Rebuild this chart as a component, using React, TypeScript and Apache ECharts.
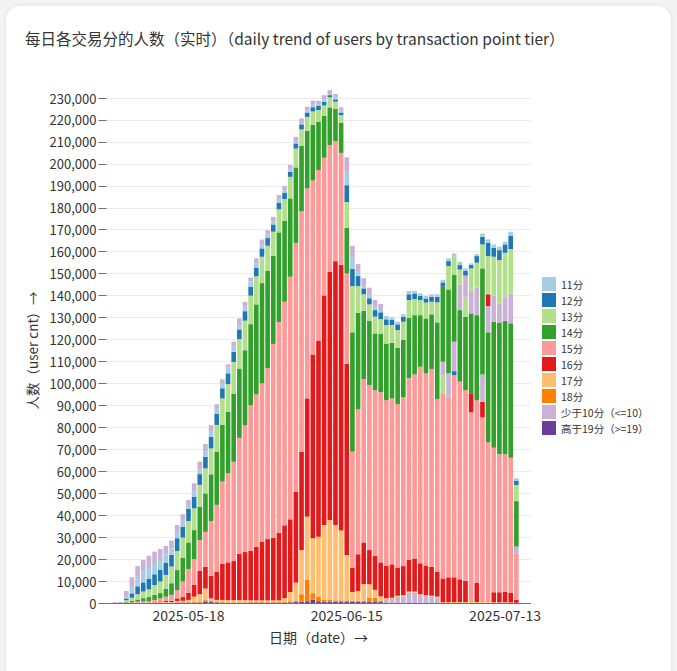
import React, { useEffect, useRef } from 'react';
import * as echarts from 'echarts';

// ---- categories ----
const START_DATE = '2025-05-04';
const DAY_COUNT = 75;
function buildDates(): string[] {
  const out: string[] = [];
  const t0 = Date.parse(START_DATE + 'T00:00:00Z');
  for (let i = 0; i < DAY_COUNT; i++) {
    out.push(new Date(t0 + i * 86400000).toISOString().slice(0, 10));
  }
  return out;
}
const dates = buildDates();

// ---- tiers (legend order) ----
const tierNames = ['11分', '12分', '13分', '14分', '15分', '16分', '17分', '18分', '少于10分（<=10）', '高于19分（>=19）'];
const tierKeys = ['11', '12', '13', '14', '15', '16', '17', '18', 'L', 'H'];
const tierColors = ['#a6cee3', '#1f78b4', '#b2df8a', '#33a02c', '#fb9a99', '#e31a1c', '#fdbf6f', '#ff7f00', '#cab2d6', '#6a3d9a'];

// ---- daily user counts (thousands) per tier ----
const vLe10 = [0, .3, .4, 2.6, 4.7, 4.9, 5.3, 5.5, 5.6, 5.0, 3.8, 3.5, 3.3, 3.0, 2.6, 3.8, 3.3, 3.2, 2.7, 2.1, 2.1, 1.5, 2.3, 3.0, 2.3, 1.8, 2.2, 2.2, 2.0, 2.0, 2.2, 2.0, 2.0, 2.3, 2.2, 1.8, 1.9, 1.5, 1.9, 1.8, 1.5, 1.5, 6.3, 5.3, 3.2, 3.1, 3.3, 3.1, 2.7, 1.8, 2.0, 2.9, 3.0, 4.7, 4.7, 3.6, 3.2, 3.0, 2.6, 6.1, 10.6, 13.4, 11.7, 9.6, 10.3, 12.6, 12.4, 11.9, 11.9, 8.7, 10.4, 13.6, 3.1, 0, 0];
const v11 = [0, 0, 0, .9, 2.6, 4.3, 4.9, 4.9, 4.7, 4.5, 3.8, 3.0, 2.7, 2.6, 1.5, 2.3, 2.4, 2.6, 2.6, 2.3, 2.0, 2.6, 2.3, 2.0, 2.0, 2.3, 2.0, 1.8, 1.6, 1.5, 1.3, 1.2, 1.1, .7, .5, .8, 1.1, .6, 1.1, .5, .9, .8, 6.4, 5.3, 2.3, 1.5, 1.5, 1.5, 1.1, 1.5, 1.2, 1.2, 1.1, 1.5, 1.2, 1.1, 1.1, 1.1, 1.1, 1.1, 1.3, 1.5, 1.5, 1.2, .8, .9, 1.5, 1.5, 1.5, 1.6, 1.2, 1.8, 1.1, 0, 0];
const v12 = [0, 0, 0, .8, 2.0, 3.6, 4.2, 4.9, 4.9, 5.3, 5.6, 5.3, 5.8, 5.0, 5.5, 5.3, 4.9, 5.3, 5.3, 5.0, 4.6, 4.9, 4.6, 4.4, 4.3, 4.1, 4.0, 3.8, 3.5, 3.3, 3.0, 2.8, 2.3, 2.3, 2.3, 2.0, 1.9, 2.1, 1.7, 1.0, 1.1, 1.2, 7.7, 7.8, 4.6, 2.7, 2.8, 3.0, 3.1, 2.6, 2.3, 2.6, 2.3, 2.6, 2.6, 1.9, 1.9, 2.3, 2.6, 2.0, 2.2, 1.8, 2.0, 2.1, 1.5, 3.0, 3.5, 6.1, 4.1, 4.5, 3.8, 6.1, 2.0, 0, 0];
const v13 = [0, 0, 0, .6, 1.5, 2.4, 3.0, 3.5, 4.5, 5.3, 6.4, 7.6, 8.7, 9.1, 9.7, 9.9, 9.9, 11.4, 11.8, 12.1, 12.1, 12.6, 14.4, 13.4, 13.5, 13.0, 12.8, 12.0, 11.5, 11.0, 10.5, 10.0, 9.8, 8.6, 7.4, 6.3, 6.1, 5.3, 4.7, 4.6, 3.3, 3.5, 11.8, 21.0, 12.1, 7.5, 7.4, 7.6, 6.8, 8.4, 8.1, 8.0, 8.3, 8.1, 7.3, 6.9, 7.2, 5.7, 9.1, 8.3, 10.7, 8.3, 6.8, 9.1, 10.2, 11.3, 10.9, 17.4, 17.7, 19.7, 20.5, 20.2, 7.3, 0, 0];
const v14 = [0, 0, 0, .4, .6, 1.0, 1.5, 2.0, 2.3, 2.4, 3.5, 5.3, 9.1, 10.9, 12.1, 13.2, 15.2, 17.5, 21.3, 24.3, 25.8, 28.1, 31.1, 31.6, 34.2, 37.0, 41.0, 45.7, 44.2, 40.1, 40.8, 36.8, 35.7, 34.4, 29.8, 26.3, 25.4, 22.0, 19.1, 17.1, 14.6, 13.7, 20.7, 54.4, 43.9, 31.1, 29.3, 25.8, 26.5, 25.8, 25.3, 25.7, 26.1, 27.6, 27.0, 23.5, 25.0, 24.9, 34.9, 34.1, 38.2, 30.4, 32.6, 33.4, 36.4, 38.7, 48.3, 50.1, 57.4, 60.1, 60.9, 61.2, 20.7, 0, 0];
const v15 = [0, 0, 0, .2, .3, .5, .6, .6, .9, 1.4, 2.0, 2.7, 3.8, 7.1, 10.8, 11.8, 14.1, 15.9, 24.9, 30.4, 37.5, 40.5, 45.2, 52.7, 57.7, 66.2, 69.4, 72.1, 77.9, 88.3, 96.0, 101.8, 110.5, 113.3, 109.6, 95.6, 79.2, 77.9, 62.8, 57.7, 54.7, 51.1, 41.1, 52.9, 66.1, 74.4, 75.2, 75.5, 77.5, 75.4, 75.6, 74.4, 76.9, 82.7, 83.8, 89.5, 87.6, 90.1, 78.6, 84.3, 82.3, 92.1, 90.0, 86.9, 86.3, 83.1, 84.1, 72.9, 65.8, 62.8, 62.7, 61.7, 21.2, 0, 0];
const v16 = [0, 0, 0, 0, 0, .1, .1, .1, .2, .4, .5, .6, 1.2, 1.7, 3.3, 5.3, 10.6, 9.9, 10.3, 12.9, 16.4, 17.2, 17.8, 21.2, 21.9, 22.6, 24.4, 26.7, 27.9, 28.5, 30.8, 33.2, 33.1, 41.4, 44.8, 53.9, 83.7, 89.1, 104.5, 113.1, 120.2, 120.9, 87.1, 11.0, 16.7, 19.0, 15.5, 15.5, 15.5, 14.8, 15.2, 12.9, 13.3, 14.4, 15.1, 14.1, 13.4, 13.2, 11.4, 10.9, 11.3, 11.3, 10.4, 9.7, 8.7, 8.9, 7.2, 5.4, 4.6, 4.6, 4.7, 4.3, 1.3, 0, 0];
const v17 = [0, 0, 0, 0, 0, 0, 0, 0, .3, .3, .4, .4, .5, .6, 1.0, 2.3, 3.3, 5.3, 1.2, .8, 1.0, 1.0, 1.0, 1.0, 1.0, .7, .7, .7, .7, .7, .7, 1.6, 4.2, 8.3, 20.1, 28.8, 25.0, 27.2, 34.0, 36.3, 34.3, 31.8, 20.7, 4.0, 4.5, 7.6, 6.1, 3.5, 2.0, .4, .4, .4, .5, .5, .5, .4, .4, .3, .3, .3, .4, .4, .4, .4, .5, .4, .4, .3, .3, .3, .3, .2, .1, 0, 0];
const v18 = [0, 0, 0, 0, 0, 0, 0, 0, 0, 0, 0, 0, .2, .2, .2, .4, .5, .8, .5, .3, .2, .2, .2, .2, .2, .3, .3, .3, .3, .3, .3, .4, .5, .6, 3.4, 9.7, 3.0, 2.2, .9, .9, .7, .7, .7, .5, .5, .6, 2.0, 2.0, .6, 0, 0, 0, 0, 0, 0, 0, 0, 0, 0, 0, 0, 0, 0, 0, 0, 0, 0, 0, 0, 0, 0, 0, 0, 0, 0];
const vGe19 = [0, 0, 0, 0, 0, 0, 0, 0, 0, 0, 0, 0, .2, .2, .2, .2, .2, .5, .4, .3, .2, .1, .1, .1, .1, .2, .2, .2, .2, .2, .2, .2, .3, .4, .6, .8, 1.5, .8, .6, .6, .5, .5, .5, .5, .5, .4, .5, .5, .4, 0, 0, 0, 0, 0, 0, 0, 0, 0, 0, 0, 0, 0, 0, 0, 0, 0, 0, 0, 0, 0, 0, 0, 0, 0, 0];

const valuesByKey: Record<string, number[]> = {
  '11': v11, '12': v12, '13': v13, '14': v14, '15': v15, '16': v16, '17': v17, '18': v18, L: vLe10, H: vGe19,
};

// ---- stacking order of segments (bottom -> top) as seen in the picture ----
const defaultOrder = ['H', '18', '17', '16', '15', '14', '13', '12', '11', 'L'];
const lowLavOrder = ['L', 'H', '18', '17', '16', '15', '14', '13', '12', '11'];
const orderByDate: Record<string, string[]> = {
  '2025-07-02': ['H', '18', '17', '16', '15', '13', 'L', '14', '12', '11'],
  '2025-07-03': ['H', '18', '17', '16', '15', 'L', '14', '13', '12', '11'],
  '2025-07-04': ['H', '18', '17', '16', '15', '12', 'L', '14', '13', '11'],
  '2025-07-05': ['H', '18', '17', '16', '15', '14', 'L', '13', '12', '11'],
  '2025-07-06': ['H', '18', '17', '16', '15', '14', '13', 'L', '12', '11'],
  '2025-07-07': ['H', '18', '17', '15', '16', '14', 'L', '13', '12', '11'],
  '2025-07-08': ['H', '18', '17', '16', '15', '14', 'L', '13', '12', '11'],
  '2025-07-09': ['H', '18', '17', '15', '16', 'L', '14', '13', '12', '11'],
  '2025-07-10': ['H', '18', '17', '15', '14', 'L', '16', '13', '12', '11'],
  '2025-07-11': ['H', '18', '17', '16', '15', '14', 'L', '13', '12', '11'],
  '2025-07-12': ['H', '18', '17', '16', '15', '14', 'L', '13', '12', '11'],
  '2025-07-13': ['H', '18', '17', '16', '15', '14', 'L', '13', '12', '11'],
  '2025-07-14': ['H', '18', '17', '16', '15', '14', 'L', '13', '12', '11'],
  '2025-07-15': ['H', '18', '17', '16', '15', 'L', '14', '13', '12', '11'],
};
const lowLavFrom = '2025-06-22';
const lowLavTo = '2025-07-01';

function orderFor(d: string): string[] {
  if (orderByDate[d]) return orderByDate[d];
  if (d >= lowLavFrom && d <= lowLavTo) return lowLavOrder;
  return defaultOrder;
}

const FONT = "'Noto Sans CJK SC', 'Noto Sans', sans-serif";

export default function App() {
  const ref = useRef<HTMLDivElement>(null);

  useEffect(() => {
    document.body.style.margin = '0';
    document.body.style.background = '#f3f3f3';
    if (!ref.current) return;
    const chart = echarts.init(ref.current, undefined, { renderer: 'svg' });
    const colorByKey: Record<string, string> = {};
    tierKeys.forEach((k, i) => (colorByKey[k] = tierColors[i]));

    const layerSeries = defaultOrder.map((_, layer) => ({
      type: 'bar',
      stack: 'all',
      barCategoryGap: '18%',
      clip: false,
      silent: true,
      legendHoverLink: false,
      data: dates.map((d, i) => {
        const key = orderFor(d)[layer];
        return { value: Math.round(valuesByKey[key][i] * 1000), itemStyle: { color: colorByKey[key] } };
      }),
    }));

    const legendSeries = tierNames.map((name, i) => ({
      type: 'bar',
      name,
      stack: 'all',
      barCategoryGap: '18%',
      data: [],
      itemStyle: { color: tierColors[i] },
    }));

    chart.setOption({
      animation: false,
      textStyle: { fontFamily: FONT },
      title: {
        text: '每日各交易分的人数（实时）（daily trend of users by transaction point tier）',
        left: 25,
        top: 30,
        padding: 0,
        textStyle: { fontSize: 15.5, fontWeight: 'normal', color: '#333', fontFamily: FONT },
      },
      legend: {
        orient: 'vertical',
        left: 542,
        top: 277,
        padding: 0,
        itemWidth: 14,
        itemHeight: 14,
        itemGap: 2,
        icon: 'rect',
        data: tierNames,
        textStyle: { fontSize: 10.5, color: '#333', fontFamily: FONT },
      },
      grid: { left: 106.5, right: 146.5, top: 98, bottom: 68, containLabel: false },
      xAxis: {
        type: 'category',
        data: dates,
        name: '日期（date）→',
        nameLocation: 'middle',
        nameGap: 27,
        nameTextStyle: { fontSize: 14, color: '#333', fontFamily: FONT },
        axisLine: { lineStyle: { color: '#6E7079' } },
        axisTick: {
          alignWithLabel: true,
          length: 5,
          interval: (i: number) => i > 0 && i % 14 === 0,
          lineStyle: { color: '#6E7079' },
        },
        axisLabel: {
          interval: (i: number) => i >= 14 && (i - 14) % 28 === 0,
          fontSize: 14,
          color: '#333',
          margin: 5,
          fontFamily: FONT,
        },
        splitLine: { show: false },
      },
      yAxis: {
        type: 'value',
        min: 0,
        max: 230000,
        interval: 10000,
        name: '人数（user cnt）→',
        nameLocation: 'middle',
        nameGap: 67,
        nameTextStyle: { fontSize: 13.5, color: '#333', fontFamily: FONT },
        axisLine: { show: false },
        axisTick: { show: true, length: 8, lineStyle: { color: '#6E7079' } },
        axisLabel: {
          fontSize: 13,
          color: '#333',
          margin: 10,
          fontFamily: FONT,
          formatter: (v: number) => v.toLocaleString('en-US'),
        },
        splitLine: { lineStyle: { color: '#EBEBEB' } },
      },
      series: [...layerSeries, ...legendSeries],
    });
    return () => chart.dispose();
  }, []);

  return (
    <div style={{ position: 'relative', width: 677, height: 671, background: '#f3f3f3', overflow: 'hidden' }}>
      <div
        style={{
          position: 'absolute',
          left: 6,
          top: 6,
          width: 665,
          height: 690,
          background: '#fff',
          borderRadius: 14,
          boxShadow: '0 0 5px rgba(0,0,0,0.08)',
        }}
      />
      <div ref={ref} style={{ position: 'absolute', left: 0, top: 0, width: 677, height: 671 }} />
    </div>
  );
}
